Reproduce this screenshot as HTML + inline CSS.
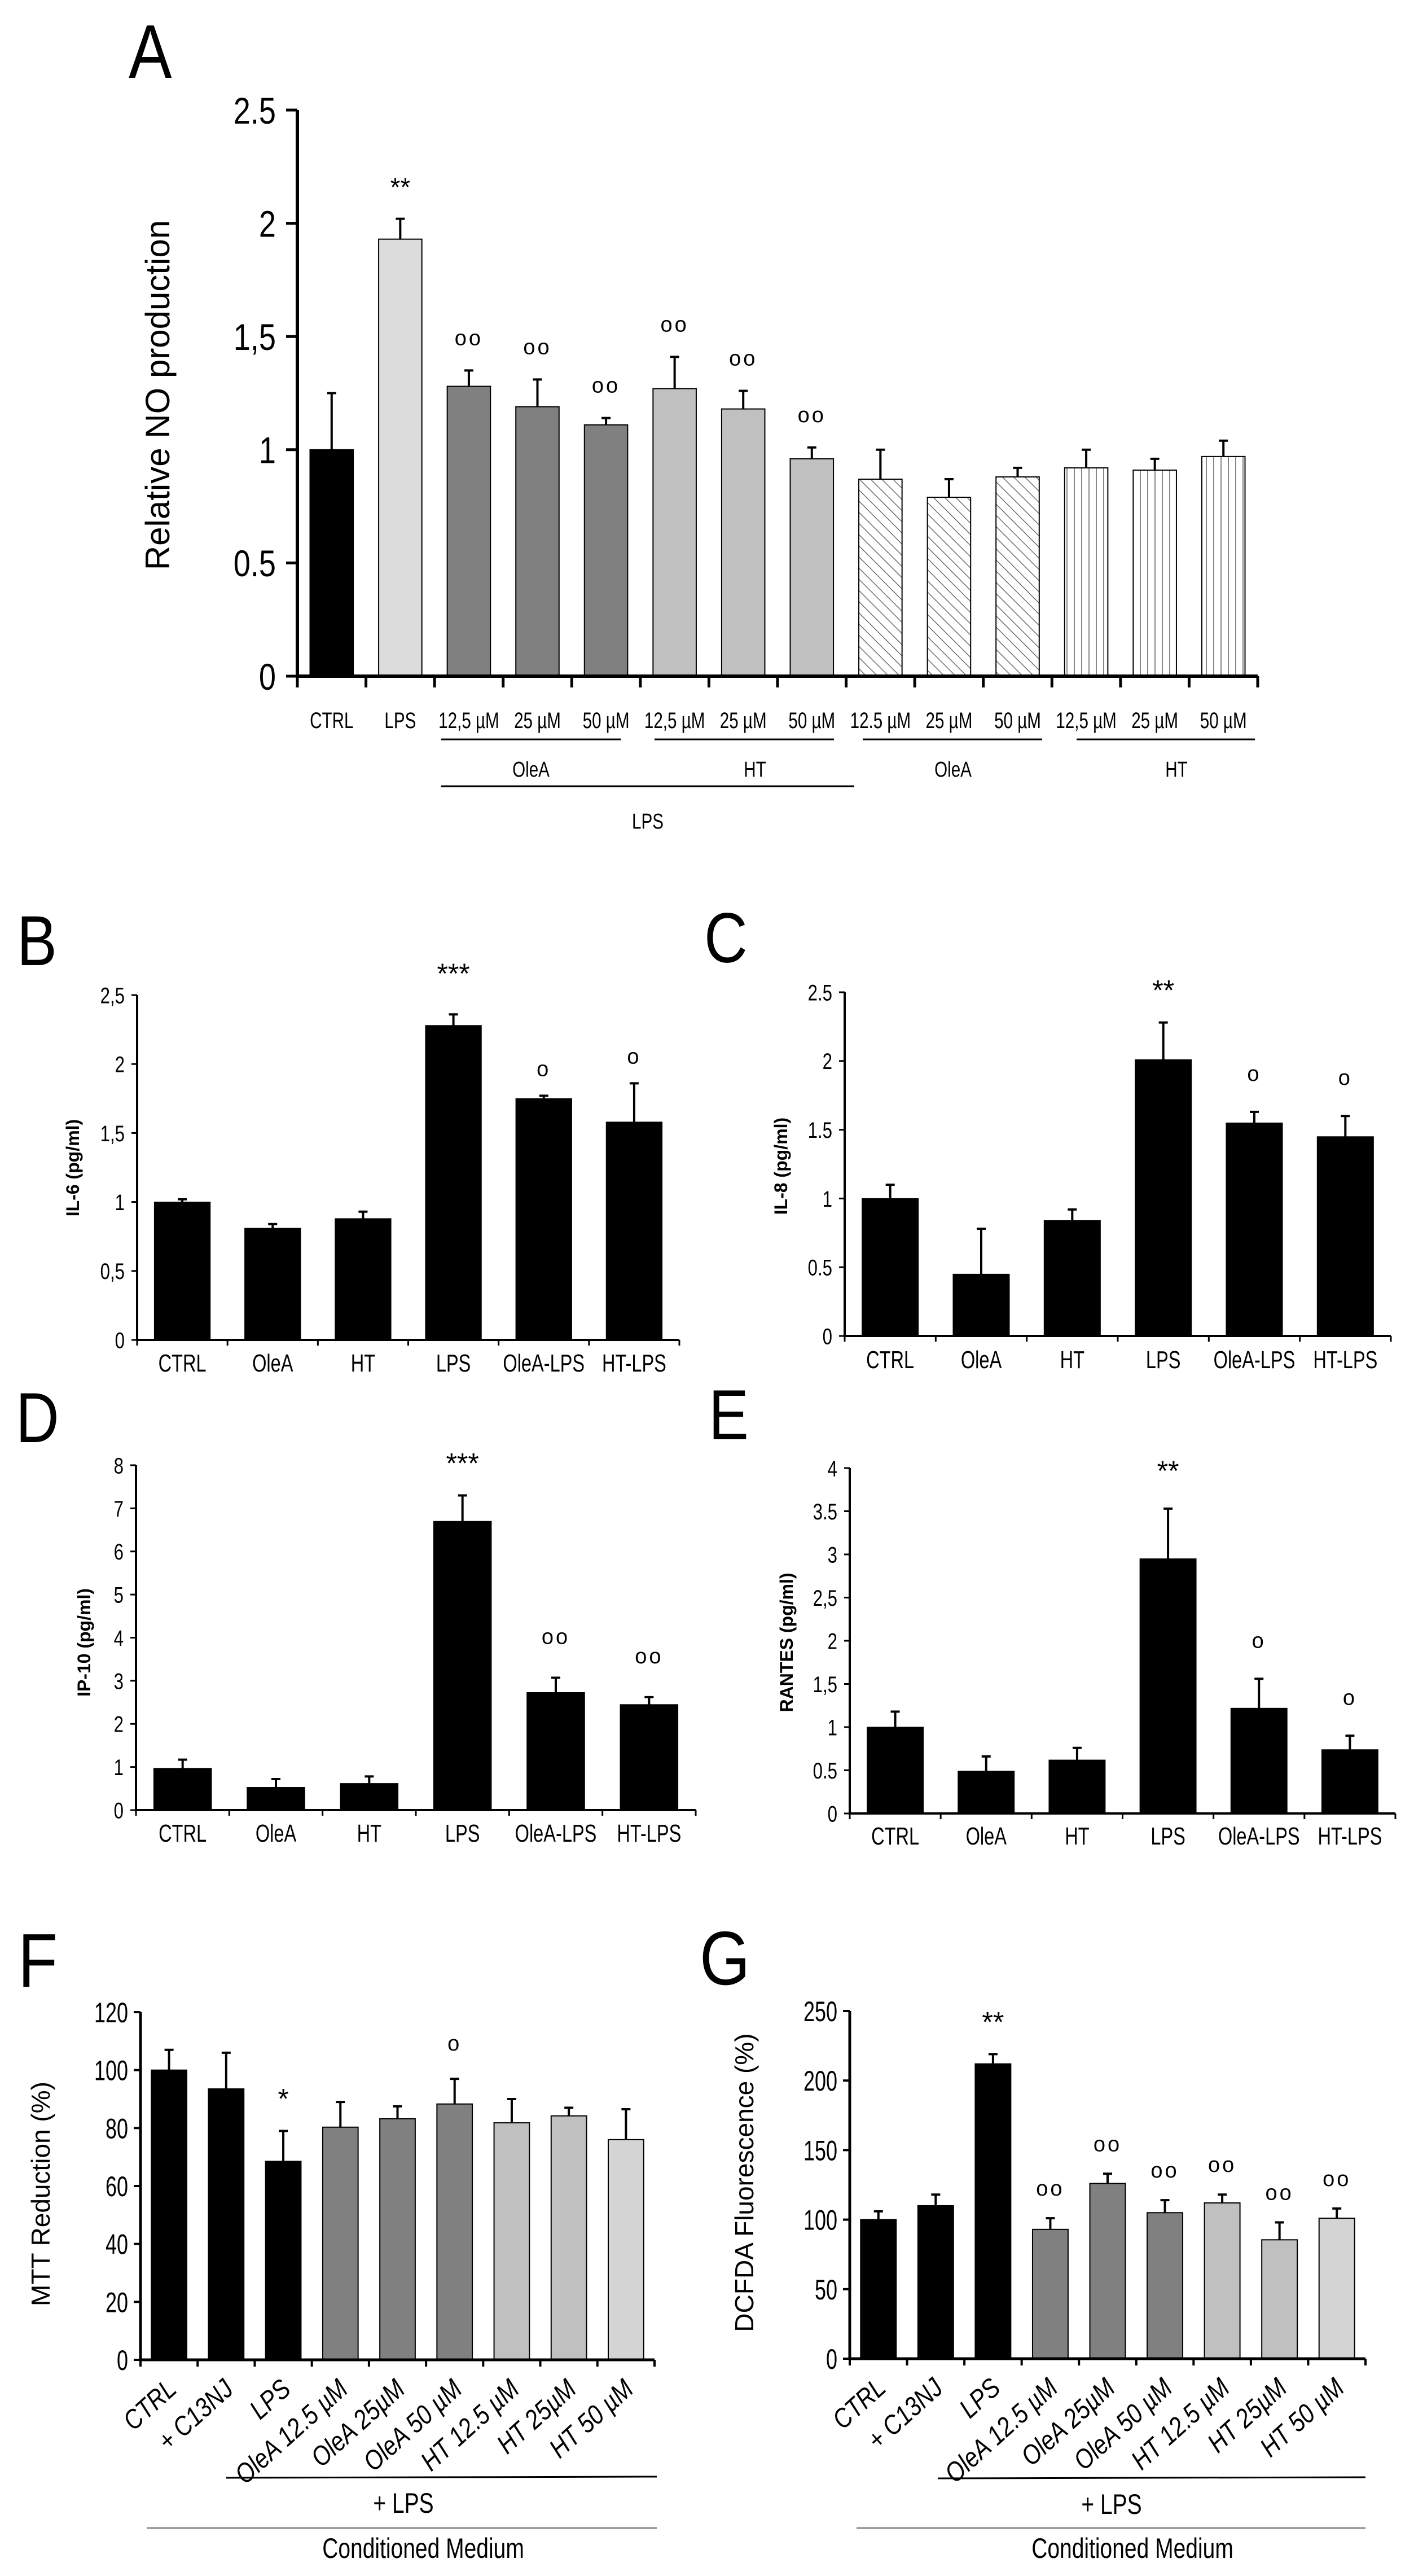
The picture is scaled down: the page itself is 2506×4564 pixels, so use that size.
<!DOCTYPE html>
<html><head><meta charset="utf-8"><style>
html,body{margin:0;padding:0;background:#fff}
svg{display:block}
text{font-family:"Liberation Sans",sans-serif;fill:#000}
</style></head><body>
<svg id="fig" xmlns="http://www.w3.org/2000/svg" width="2506" height="4564" viewBox="0 0 2506 4564">
<defs>
<pattern id="hatchDiag" patternUnits="userSpaceOnUse" width="14" height="14" patternTransform="rotate(-45)"><rect width="14" height="14" fill="#fff"/><line x1="0" y1="0" x2="0" y2="14" stroke="#555" stroke-width="2.5"/></pattern>
<pattern id="hatchVert" patternUnits="userSpaceOnUse" width="13" height="13"><rect width="13" height="13" fill="#fff"/><line x1="6" y1="0" x2="6" y2="13" stroke="#888" stroke-width="2"/></pattern>
</defs>
</svg>
<script>
// ---- Panel A data ----
const aCategories = ["CTRL","LPS","12,5 \u00b5M","25 \u00b5M","50 \u00b5M","12,5 \u00b5M","25 \u00b5M","50 \u00b5M","12.5 \u00b5M","25 \u00b5M","50 \u00b5M","12,5 \u00b5M","25 \u00b5M","50 \u00b5M"];
const aValues = [1.0,1.93,1.28,1.19,1.11,1.27,1.18,0.96,0.87,0.79,0.88,0.92,0.91,0.97];
const aErrTops = [1.25,2.02,1.35,1.31,1.14,1.41,1.26,1.01,1.0,0.87,0.92,1.0,0.96,1.04];
const aMarks = ["","**","oo","oo","oo","oo","oo","oo","","","","","",""];
const aTicks = ["0","0.5","1","1,5","2","2.5"];
const aTickValues = [0,0.5,1,1.5,2,2.5];
// ---- Panel B ----
const bCategories = ["CTRL","OleA","HT","LPS","OleA-LPS","HT-LPS"];
const bValues = [1.0,0.81,0.88,2.28,1.75,1.58];
const bErrTops = [1.02,0.84,0.93,2.36,1.77,1.86];
const bMarks = ["","","","***","o","o"];
const bTicks = ["0","0,5","1","1,5","2","2,5"];
const bTickValues = [0,0.5,1,1.5,2,2.5];
// ---- Panel C ----
const cCategories = ["CTRL","OleA","HT","LPS","OleA-LPS","HT-LPS"];
const cValues = [1.0,0.45,0.84,2.01,1.55,1.45];
const cErrTops = [1.1,0.78,0.92,2.28,1.63,1.6];
const cMarks = ["","","","**","o","o"];
const cTicks = ["0","0.5","1","1.5","2","2.5"];
const cTickValues = [0,0.5,1,1.5,2,2.5];
// ---- Panel D ----
const dCategories = ["CTRL","OleA","HT","LPS","OleA-LPS","HT-LPS"];
const dValues = [0.97,0.53,0.62,6.7,2.73,2.45];
const dErrTops = [1.17,0.72,0.78,7.3,3.07,2.62];
const dMarks = ["","","","***","oo","oo"];
const dTicks = ["0","1","2","3","4","5","6","7","8"];
const dTickValues = [0,1,2,3,4,5,6,7,8];
// ---- Panel E ----
const eCategories = ["CTRL","OleA","HT","LPS","OleA-LPS","HT-LPS"];
const eValues = [1.0,0.49,0.62,2.95,1.22,0.74];
const eErrTops = [1.18,0.66,0.76,3.53,1.56,0.9];
const eMarks = ["","","","**","o","o"];
const eTicks = ["0","0.5","1","1,5","2","2,5","3","3.5","4"];
const eTickValues = [0,0.5,1,1.5,2,2.5,3,3.5,4];
// ---- Panel F ----
const fCategories = ["CTRL","+ C13NJ","LPS","OleA 12.5 \u00b5M","OleA 25\u00b5M","OleA 50 \u00b5M","HT 12.5 \u00b5M","HT 25\u00b5M","HT 50 \u00b5M"];
const fValues = [100,93.5,68.5,80.3,83.2,88.3,81.8,84.2,76];
const fErrTops = [107,106,79,89,87.5,97,90,87,86.5];
const fMarks = ["","","*","","","o","","",""];
const fTicks = ["0","20","40","60","80","100","120"];
const fTickValues = [0,20,40,60,80,100,120];
// ---- Panel G ----
const gCategories = ["CTRL","+ C13NJ","LPS","OleA 12.5 \u00b5M","OleA 25\u00b5M","OleA 50 \u00b5M","HT 12.5 \u00b5M","HT 25\u00b5M","HT 50 \u00b5M"];
const gValues = [100,110,212,93,126,105,112,85.5,101];
const gErrTops = [106,118,219,101,133,114,118,98,108];
const gMarks = ["","","**","oo","oo","oo","oo","oo","oo"];
const gTicks = ["0","50","100","150","200","250"];
const gTickValues = [0,50,100,150,200,250];

const NS = "http://www.w3.org/2000/svg";
const svg = document.getElementById('fig');
function mk(tag, attrs, parent, txt){
  const e = document.createElementNS(NS, tag);
  for (const k in attrs) e.setAttribute(k, attrs[k]);
  if (txt !== undefined) e.textContent = txt;
  (parent || svg).appendChild(e);
  return e;
}
function ctext(parent, x, y, size, txt, anchor, sx, extra){
  const attrs = {x:0, y:0, 'font-size':size, 'text-anchor':anchor, transform:`translate(${x} ${y}) scale(${sx} 1)`};
  if (extra) for (const k in extra) attrs[k] = extra[k];
  return mk('text', attrs, parent, txt);
}

const fillsA = ["#000","#dcdcdc","#808080","#808080","#808080","#c0c0c0","#c0c0c0","#c0c0c0","url(#hatchDiag)","url(#hatchDiag)","url(#hatchDiag)","url(#hatchVert)","url(#hatchVert)","url(#hatchVert)"];
const fillsFG = ["#000","#000","#000","#808080","#808080","#808080","#c0c0c0","#c0c0c0","#d4d4d4"];

function panel(p){
  const g = mk('g', {});
  
  
  const n = p.cats.length;
  const cw = (p.x1 - p.x0) / n;
  const ys = v => p.y0 - (v / p.max) * (p.y0 - p.yTop);
  const xc = i => p.x0 + cw * (i + 0.5);
  const L = ctext(g, p.lx, p.ly, p.lsize, p.letter, 'start', 0.85);
  
  
  for (let i = 0; i < n; i++){
    const top = ys(p.vals[i]);
    const bw = cw * p.bwFrac;
    const r = mk('rect', {x:xc(i)-bw/2, y:top, width:bw, height:p.y0-top, fill:p.fills[i], stroke:'#000', 'stroke-width':p.bstroke}, g);
    
    
    const et = ys(p.errs[i]);
    const eb = mk('path', {d:`M${xc(i)} ${top} V${et} M${xc(i)-8} ${et} H${xc(i)+8}`, stroke:'#000', 'stroke-width':4, fill:'none'}, g);
    
    
    if (p.marks[i]){
      const isStar = p.marks[i].indexOf('*') >= 0;
      const m = mk('text', {x:xc(i), y:et - (isStar ? p.starOff : p.circOff), 'font-size': isStar ? p.starSize : p.circSize, 'text-anchor':'middle', 'letter-spacing': isStar ? 0 : 4}, g, p.marks[i]);
      
      
    }
  }
  const ax = mk('path', {d:`M${p.x0} ${p.yTop} V${p.y0} H${p.x1}`, stroke:'#000', 'stroke-width':p.axw, fill:'none'}, g);
  
  
  for (let i = 0; i <= n; i++){
    const x = p.x0 + cw * i;
    mk('line', {x1:x, y1:p.y0, x2:x, y2:p.y0 + p.tl, stroke:'#000', 'stroke-width':p.axw - 1}, g);
  }
  for (let t = 0; t < p.ticks.length; t++){
    const y = ys(p.tickVals[t]);
    mk('line', {x1:p.x0 - p.tl, y1:y, x2:p.x0, y2:y, stroke:'#000', 'stroke-width':p.axw - 1}, g);
    const tt = ctext(g, p.x0 - p.tl - p.tgap, y + p.tsize * 0.36, p.tsize, p.ticks[t], 'end', p.tsx);
    
    
  }
  const yt = mk('text', {x:p.ytx, y:p.yty, 'font-size':p.ytsize, 'text-anchor':'middle', transform:`rotate(-90 ${p.ytx} ${p.yty})`, 'font-weight':p.ytbold ? 'bold' : 'normal'}, g, p.ytitle);
  
  
  for (let i = 0; i < n; i++){
    let t;
    if (p.rotate){
      const x = xc(i) + 16, y = p.y0 + 56;
      t = mk('text', {x:0, y:0, 'font-size':p.xsize, 'text-anchor':'end', 'font-style':'italic', transform:`translate(${x} ${y}) rotate(-42) scale(0.85 1)`}, g, p.cats[i]);
    } else {
      t = ctext(g, xc(i), p.xly, p.xsize, p.cats[i], 'middle', p.xsx);
    }
    
    
  }
  return g;
}

panel({name:'panel-a-no-production', letter:'A', lx:228, ly:138, lsize:135, cats:aCategories, vals:aValues, errs:aErrTops, marks:aMarks, ticks:aTicks, tickVals:aTickValues, fills:fillsA,
  x0:527, x1:2229, y0:1198, yTop:195, max:2.5, bwFrac:0.63, bstroke:2, axw:6, tl:20, tgap:18, tsize:66, tsx:0.82, ytitle:'Relative NO production', ytx:300, yty:700, ytsize:60,
  xly:1290, xsize:40, xsx:0.74, starOff:40, circOff:45, starSize:46, circSize:38});
panel({name:'panel-b-il6', letter:'B', lx:30, ly:1710, lsize:125, cats:bCategories, vals:bValues, errs:bErrTops, marks:bMarks, ticks:bTicks, tickVals:bTickValues, fills:Array(6).fill('#000'),
  x0:243, x1:1204, y0:2374, yTop:1763, max:2.5, bwFrac:0.62, bstroke:1, axw:4, tl:10, tgap:12, tsize:40, tsx:0.78, ytitle:'IL-6 (pg/ml)', ytx:140, yty:2069, ytsize:32, ytbold:true,
  xly:2430, xsize:44, xsx:0.74, starOff:55, circOff:35, starSize:50, circSize:38});
panel({name:'panel-c-il8', letter:'C', lx:1248, ly:1705, lsize:125, cats:cCategories, vals:cValues, errs:cErrTops, marks:cMarks, ticks:cTicks, tickVals:cTickValues, fills:Array(6).fill('#000'),
  x0:1497, x1:2465, y0:2367, yTop:1758, max:2.5, bwFrac:0.62, bstroke:1, axw:4, tl:10, tgap:12, tsize:40, tsx:0.78, ytitle:'IL-8 (pg/ml)', ytx:1395, yty:2066, ytsize:32, ytbold:true,
  xly:2424, xsize:44, xsx:0.74, starOff:40, circOff:55, starSize:50, circSize:38});
panel({name:'panel-d-ip10', letter:'D', lx:28, ly:2555, lsize:125, cats:dCategories, vals:dValues, errs:dErrTops, marks:dMarks, ticks:dTicks, tickVals:dTickValues, fills:Array(6).fill('#000'),
  x0:241, x1:1233, y0:3207, yTop:2596, max:8, bwFrac:0.62, bstroke:1, axw:4, tl:10, tgap:12, tsize:40, tsx:0.78, ytitle:'IP-10 (pg/ml)', ytx:160, yty:2910, ytsize:32, ytbold:true,
  xly:3263, xsize:44, xsx:0.74, starOff:40, circOff:60, starSize:50, circSize:38});
panel({name:'panel-e-rantes', letter:'E', lx:1256, ly:2550, lsize:125, cats:eCategories, vals:eValues, errs:eErrTops, marks:eMarks, ticks:eTicks, tickVals:eTickValues, fills:Array(6).fill('#000'),
  x0:1506, x1:2473, y0:3213, yTop:2601, max:4, bwFrac:0.62, bstroke:1, axw:4, tl:10, tgap:12, tsize:40, tsx:0.78, ytitle:'RANTES (pg/ml)', ytx:1405, yty:2910, ytsize:32, ytbold:true,
  xly:3268, xsize:44, xsx:0.74, starOff:50, circOff:55, starSize:50, circSize:38});
panel({name:'panel-f-mtt', letter:'F', lx:32, ly:3520, lsize:135, cats:fCategories, vals:fValues, errs:fErrTops, marks:fMarks, ticks:fTicks, tickVals:fTickValues, fills:fillsFG,
  x0:249, x1:1160, y0:4181, yTop:3565, max:120, bwFrac:0.62, bstroke:2, axw:5, tl:12, tgap:10, tsize:50, tsx:0.72, ytitle:'MTT Reduction (%)', ytx:88, yty:3887, ytsize:46,
  xsize:48, rotate:true, starOff:40, circOff:50, starSize:50, circSize:38});
panel({name:'panel-g-dcfda', letter:'G', lx:1240, ly:3516, lsize:135, cats:gCategories, vals:gValues, errs:gErrTops, marks:gMarks, ticks:gTicks, tickVals:gTickValues, fills:fillsFG,
  x0:1506, x1:2420, y0:4179, yTop:3563, max:250, bwFrac:0.62, bstroke:2, axw:5, tl:12, tgap:10, tsize:50, tsx:0.72, ytitle:'DCFDA Fluorescence (%)', ytx:1335, yty:3867, ytsize:46,
  xsize:48, rotate:true, starOff:40, circOff:40, starSize:50, circSize:38});

function line(x1,y1,x2,y2,name,col,w){
  const l = mk('line',{x1:x1,y1:y1,x2:x2,y2:y2,stroke:col||'#000','stroke-width':w||3});
  
  
}
function label(x,y,s,t,name){
  const e = ctext(svg, x, y, s, t, 'middle', 0.78);
  
  
}
line(782,1310,1100,1310,'olea-lps-bracket');
line(1160,1310,1478,1310,'ht-lps-bracket');
line(1529,1310,1847,1310,'olea-bracket');
line(1908,1310,2224,1310,'ht-bracket');
line(782,1393,1514,1393,'lps-bracket');
label(941,1376,38,'OleA','group-label-olea-lps');
label(1338,1376,38,'HT','group-label-ht-lps');
label(1689,1376,38,'OleA','group-label-olea');
label(2085,1376,38,'HT','group-label-ht');
label(1148,1468,38,'LPS','group-label-lps');

line(401,4390,1164,4388,'f-lps-bracket');
label(715,4452,50,'+ LPS','f-lps-label');
line(260,4479,1164,4479,'f-medium-bracket','#888',3);
label(750,4532,50,'Conditioned Medium','f-medium-label');
line(1662,4391,2420,4389,'g-lps-bracket');
label(1970,4454,50,'+ LPS','g-lps-label');
line(1518,4479,2420,4479,'g-medium-bracket','#888',3);
label(2007,4532,50,'Conditioned Medium','g-medium-label');
</script>
</body></html>
